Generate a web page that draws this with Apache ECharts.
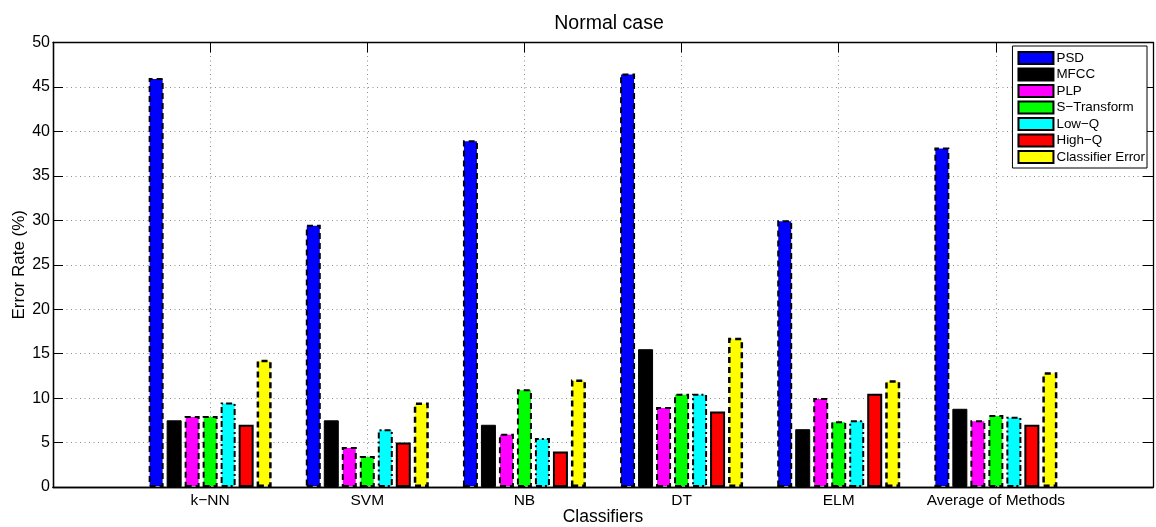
<!DOCTYPE html>
<html>
<head>
<meta charset="utf-8">
<script src="https://cdn.jsdelivr.net/npm/echarts@6/dist/echarts.min.js"></script>
<style>
html,body{margin:0;padding:0;background:#fff;}
#chart{width:1156px;height:527px;}
</style>
</head>
<body>
<div id="chart"></div>
<script>
// Categories (padded with empty slots at both ends like the MATLAB axis 0..7)
var categories = ['', 'k\u2212NN', 'SVM', 'NB', 'DT', 'ELM', 'Average of Methods', ''];
var seriesNames = ['PSD', 'MFCC', 'PLP', 'S\u2212Transform', 'Low\u2212Q', 'High\u2212Q', 'Classifier Error'];

var psd        = [46.0, 29.5, 39.0, 46.5, 30.0, 38.2];
var mfcc       = [7.5, 7.5, 7.0, 15.5, 6.5, 8.8];
var plp        = [8.0, 4.5, 6.0, 9.0, 10.0, 7.5];
var sTransform = [8.0, 3.5, 11.0, 10.5, 7.4, 8.1];
var lowQ       = [9.5, 6.5, 5.5, 10.5, 7.5, 7.9];
var highQ      = [7.0, 5.0, 4.0, 8.5, 10.5, 7.0];
var classErr   = [14.3, 9.5, 12.1, 16.8, 12.0, 12.9];

var yTicks = [0, 5, 10, 15, 20, 25, 30, 35, 40, 45, 50];

var FONT = "'Liberation Sans', Arial, Helvetica, sans-serif";

function pad(arr) { return [null].concat(arr).concat([null]); }

var styles = [
  {color: '#0000ff', borderColor: '#000', borderWidth: 2, borderType: [6, 4]},
  {color: '#000000', borderColor: '#000', borderWidth: 1, borderType: 'solid'},
  {color: '#ff00ff', borderColor: '#000', borderWidth: 2, borderType: [6, 4]},
  {color: '#00ff00', borderColor: '#000', borderWidth: 2, borderType: [6, 4]},
  {color: '#00ffff', borderColor: '#000', borderWidth: 2, borderType: [6, 3, 2, 3]},
  {color: '#ff0000', borderColor: '#000', borderWidth: 2, borderType: 'solid'},
  {color: '#ffff00', borderColor: '#000', borderWidth: 2.5, borderType: [6, 4]}
];
var dataSets = [psd, mfcc, plp, sTransform, lowQ, highQ, classErr];

var series = seriesNames.map(function (name, i) {
  return {
    name: name,
    type: 'bar',
    xAxisIndex: 0,
    yAxisIndex: 0,
    barWidth: 15,
    barGap: '20%',
    data: pad(dataSets[i]),
    itemStyle: styles[i],
    emphasis: {disabled: true},
    animation: false
  };
});

var chart = echarts.init(document.getElementById('chart'), null, {renderer: 'canvas'});
var axisLineStyle = {color: '#000', width: 1.3};
var tickStyle = {show: true, inside: true, length: 10, lineStyle: {color: '#000', width: 1}};
var gridLine = {color: '#8c8c8c', width: 1, type: [1, 3.5]};

function tickOnlyX(pos) {
  return {
    type: 'category',
    data: categories,
    boundaryGap: false,
    position: pos,
    axisLine: {show: true, onZero: false, lineStyle: axisLineStyle},
    axisTick: {show: true, inside: true, length: 10, interval: 0, lineStyle: {color: '#000', width: 1}},
    axisLabel: {show: false},
    splitLine: {show: false}
  };
}
function tickOnlyY(pos) {
  return {
    type: 'value',
    min: yTicks[0],
    max: yTicks[yTicks.length - 1],
    interval: 5,
    position: pos,
    axisLine: {show: true, onZero: false, lineStyle: axisLineStyle},
    axisTick: tickStyle,
    axisLabel: {show: false},
    splitLine: {show: false}
  };
}

chart.setOption({
  backgroundColor: '#ffffff',
  animation: false,
  title: {
    text: 'Normal case',
    left: 604,
    textAlign: 'center',
    top: 9,
    textStyle: {fontFamily: FONT, fontSize: 19.5, fontWeight: 'normal', color: '#000'}
  },
  legend: {
    orient: 'vertical',
    right: 9,
    top: 46,
    padding: [5, 2, 4, 5],
    itemWidth: 35,
    itemHeight: 12,
    itemGap: 2.5,
    icon: 'rect',
    backgroundColor: '#fff',
    borderColor: '#000',
    borderWidth: 1,
    borderRadius: 0,
    data: seriesNames,
    textStyle: {fontFamily: FONT, fontSize: 13.4, color: '#000', lineHeight: 14, padding: [0, 0, 0, -2]}
  },
  grid: {left: 53, right: 3, top: 42.5, bottom: 40, containLabel: false, outerBoundsMode: 'none'},
  xAxis: [
    {
      type: 'category',
      data: categories,
      boundaryGap: false,
      position: 'bottom',
      name: 'Classifiers',
      nameLocation: 'middle',
      nameGap: 21.5,
      nameMoveOverlap: false,
      nameTextStyle: {fontFamily: FONT, fontSize: 17.5, color: '#000'},
      axisLine: {show: true, onZero: false, lineStyle: axisLineStyle},
      axisTick: {show: false},
      axisLabel: {interval: 0, margin: 5.5, fontFamily: FONT, fontSize: 15.5, color: '#000'},
      splitLine: {show: true, interval: 0, lineStyle: gridLine}
    },
    tickOnlyX('top'),
    tickOnlyX('bottom')
  ],
  yAxis: [
    {
      type: 'value',
      min: yTicks[0],
      max: yTicks[yTicks.length - 1],
      interval: 5,
      position: 'left',
      name: 'Error Rate (%)',
      nameLocation: 'middle',
      nameGap: 25,
      nameMoveOverlap: false,
      nameTextStyle: {fontFamily: FONT, fontSize: 17, color: '#000'},
      axisLine: {show: true, onZero: false, lineStyle: axisLineStyle},
      axisTick: {show: false},
      axisLabel: {margin: 3, fontFamily: FONT, fontSize: 16, color: '#000'},
      splitLine: {show: true, lineStyle: gridLine}
    },
    tickOnlyY('right'),
    tickOnlyY('left')
  ],
  series: series
});
</script>
</body>
</html>
